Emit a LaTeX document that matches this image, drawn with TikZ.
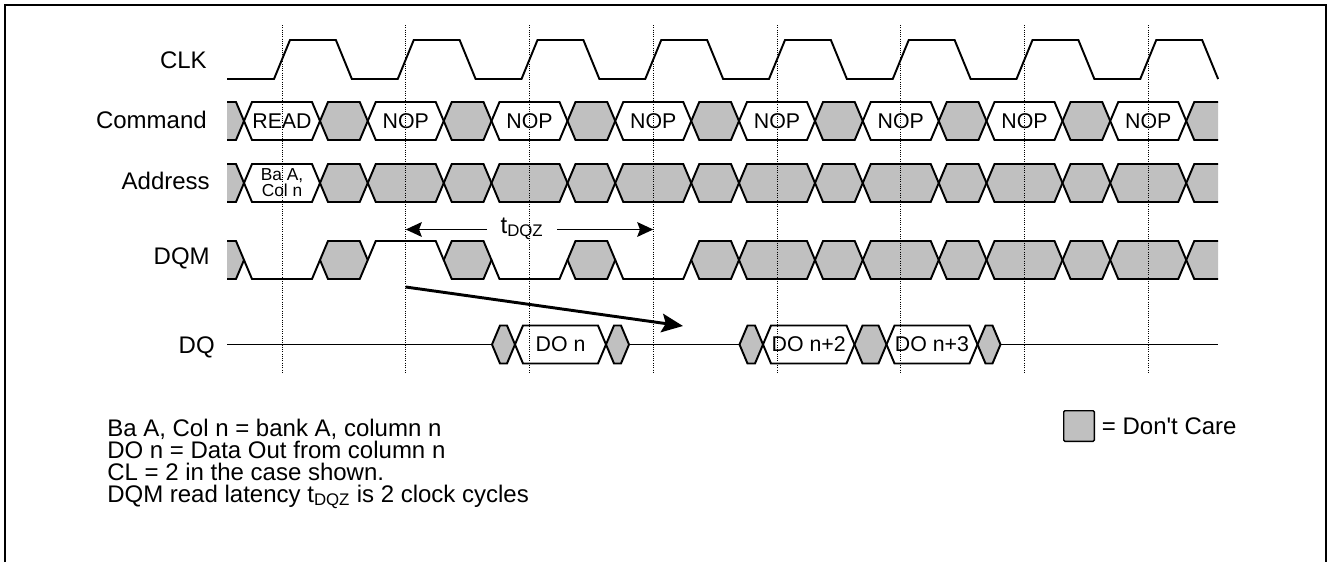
\documentclass[tikz,border=0pt]{standalone}
\usepackage{fontspec}
\setmainfont{Liberation Sans}
\usepackage{tikz}
\usetikzlibrary{arrows.meta, calc}

\definecolor{dcgray}{HTML}{C0C0C0}
\def\clkT{123.75}
% one bus cell between two crossings: x1, x2, mid y, fill
\newcommand{\buscell}[4]{%
  \filldraw[wave, fill=#4] (#1,#3) -- ({#1+8},{#3-19}) -- ({#2-8},{#3-19}) -- (#2,#3)
    -- ({#2-8},{#3+19}) -- ({#1+8},{#3+19}) -- cycle;}

\begin{document}
\begin{tikzpicture}[x=0.75pt, y=-0.75pt,
    wave/.style={line width=1.45pt},
    clkgrid/.style={densely dotted, line width=0.7pt},
    sigtxt/.style={font=\fontsize{18}{20}\selectfont, inner sep=0pt},
    boxtxt/.style={font=\fontsize{16}{18}\selectfont, inner sep=0pt},
    dimarr/.style={line width=1.45pt, -{Stealth[length=12pt, width=11pt, inset=2pt]}},
    latarr/.style={line width=2.2pt, -{Stealth[length=16pt, width=14pt, inset=3pt]}}]
  \useasboundingbox (0,0) rectangle (1329,562);
  \draw[line width=1pt] (5,562) -- (5,5) -- (1326,5) -- (1326,562);

  % signal names
  \node[sigtxt, anchor=base east] (clk) at (207,68) {CLK};
  \node[sigtxt, anchor=base east] (cmd) at (207,128) {Command};
  \node[sigtxt, anchor=base east] (addr) at (210,189) {Address};
  \node[sigtxt, anchor=base east] (dqm) at (210,264) {DQM};
  \node[sigtxt, anchor=base east] (dq) at (215,353) {DQ};

  % CLK
  \draw[wave] (227,79) foreach \k in {0,...,7} {
    -- ({282+\k*\clkT-8},79) -- ({282+\k*\clkT+8},40)
    -- ({282+(\k+0.5)*\clkT-8},40) -- ({282+(\k+0.5)*\clkT+8},79)};

  % Command
  \filldraw[wave, fill=dcgray] (227,102) -- (236,102) -- (244,121) -- (236,140) -- (227,140);
  \foreach \k/\txt in {0/READ,1/NOP,2/NOP,3/NOP,4/NOP,5/NOP,6/NOP,7/NOP} {
    \pgfmathsetmacro\xa{244+\k*\clkT}
    \pgfmathsetmacro\xb{320+\k*\clkT}
    \pgfmathsetmacro\xc{\xa+\clkT}
    \buscell{\xa}{\xb}{121}{white}
    \node[boxtxt] (cmd\k) at ({(\xa+\xb)/2},121) {\txt};
    \ifnum\k<7 \buscell{\xb}{\xc}{121}{dcgray}\fi
  }
  \filldraw[wave, fill=dcgray] (1218,102) -- (1194.25,102) -- (1186.25,121) -- (1194.25,140) -- (1218,140);

  % Address
  \filldraw[wave, fill=dcgray] (227,164) -- (236,164) -- (244,183) -- (236,202) -- (227,202);
  \buscell{244}{320}{183}{white}
  \node[boxtxt, font=\fontsize{13}{12}\selectfont, align=center] (addr0) at (282,183) {Ba A,\\Col n};
  \foreach \k in {1,...,7} {
    \pgfmathsetmacro\xa{244+\k*\clkT}
    \pgfmathsetmacro\xb{320+\k*\clkT}
    \pgfmathsetmacro\xp{\xb-\clkT}
    \buscell{\xp}{\xa}{183}{dcgray}
    \buscell{\xa}{\xb}{183}{dcgray}
  }
  \filldraw[wave, fill=dcgray] (1218,164) -- (1194.25,164) -- (1186.25,183) -- (1194.25,202) -- (1218,202);

  % DQM
  \filldraw[wave, fill=dcgray] (227,241) -- (236,241) -- (244,260) -- (236,279) -- (227,279);
  \draw[wave] (244,260) -- (252,279) -- (312,279) -- (320,260);
  \buscell{320}{367.75}{260}{dcgray}
  \draw[wave] (367.75,260) -- (375.75,241) -- (435.75,241) -- (443.75,260);
  \buscell{443.75}{491.5}{260}{dcgray}
  \draw[wave] (491.5,260) -- (499.5,279) -- (559.5,279) -- (567.5,260);
  \buscell{567.5}{615.25}{260}{dcgray}
  \draw[wave] (615.25,260) -- (623.25,279) -- (683.25,279) -- (691.25,260);
  \buscell{691.25}{739}{260}{dcgray}
  \foreach \k in {4,...,7} {
    \pgfmathsetmacro\xa{244+\k*\clkT}
    \pgfmathsetmacro\xb{320+\k*\clkT}
    \pgfmathsetmacro\xc{\xa+\clkT}
    \buscell{\xa}{\xb}{260}{dcgray}
    \ifnum\k<7 \buscell{\xb}{\xc}{260}{dcgray}\fi
  }
  \filldraw[wave, fill=dcgray] (1218,241) -- (1194.25,241) -- (1186.25,260) -- (1194.25,279) -- (1218,279);

  % DQ
  \draw[wave] (227,344.5) -- (492,344.5);
  \buscell{492}{515}{344.5}{dcgray}
  \buscell{515}{606}{344.5}{white}
  \node[boxtxt] (do0) at (560.5,344.5) {DO n};
  \buscell{606}{629}{344.5}{dcgray}
  \draw[wave] (629,344.5) -- (739.5,344.5);
  \buscell{739.5}{763}{344.5}{dcgray}
  \buscell{763}{854.5}{344.5}{white}
  \node[boxtxt] (do2) at (808.75,344.5) {DO n+2};
  \buscell{854.5}{886.5}{344.5}{dcgray}
  \buscell{886.5}{977.5}{344.5}{white}
  \node[boxtxt] (do3) at (932,344.5) {DO n+3};
  \buscell{977.5}{1000.5}{344.5}{dcgray}
  \draw[wave] (1000.5,344.5) -- (1218,344.5);

  % clock edges
  \foreach \k in {0,...,7}
    \draw[clkgrid] ({282+\k*\clkT},25) coordinate (e\k) -- ({282+\k*\clkT},372);

  % tDQZ
  \node[sigtxt, anchor=base, inner xsep=10pt] (tdqz) at (522,233) {t\textsubscript{DQZ}};
  \draw[dimarr] (tdqz.mid west) -- (tdqz.mid west -| e1);
  \draw[dimarr] (tdqz.mid east) -- (tdqz.mid east -| e3);

  % DQM to DQ latency
  \coordinate (lat0) at (405.75,287);
  \coordinate (lat1) at (683,326);
  \draw[latarr] (lat0) -- (lat1);

  % notes
  \node[sigtxt, anchor=base west] (note1) at (107,436) {Ba A, Col n = bank A, column n};
  \node[sigtxt, anchor=base west] (note2) at (107,458) {DO n = Data Out from column n};
  \node[sigtxt, anchor=base west] (note3) at (107,480) {CL = 2 in the case shown.};
  \node[sigtxt, anchor=base west] (note4) at (107,502) {DQM read latency t\textsubscript{DQZ} is 2 clock cycles};

  \node[draw, line width=1pt, fill=dcgray, rounded corners=1pt, minimum size=23pt, inner sep=0pt] (dcbox) at (1079,426) {};
  \node[sigtxt, anchor=west] (dclbl) at ([xshift=5pt]dcbox.east) {= Don\textquotesingle t Care};
\end{tikzpicture}
\end{document}
